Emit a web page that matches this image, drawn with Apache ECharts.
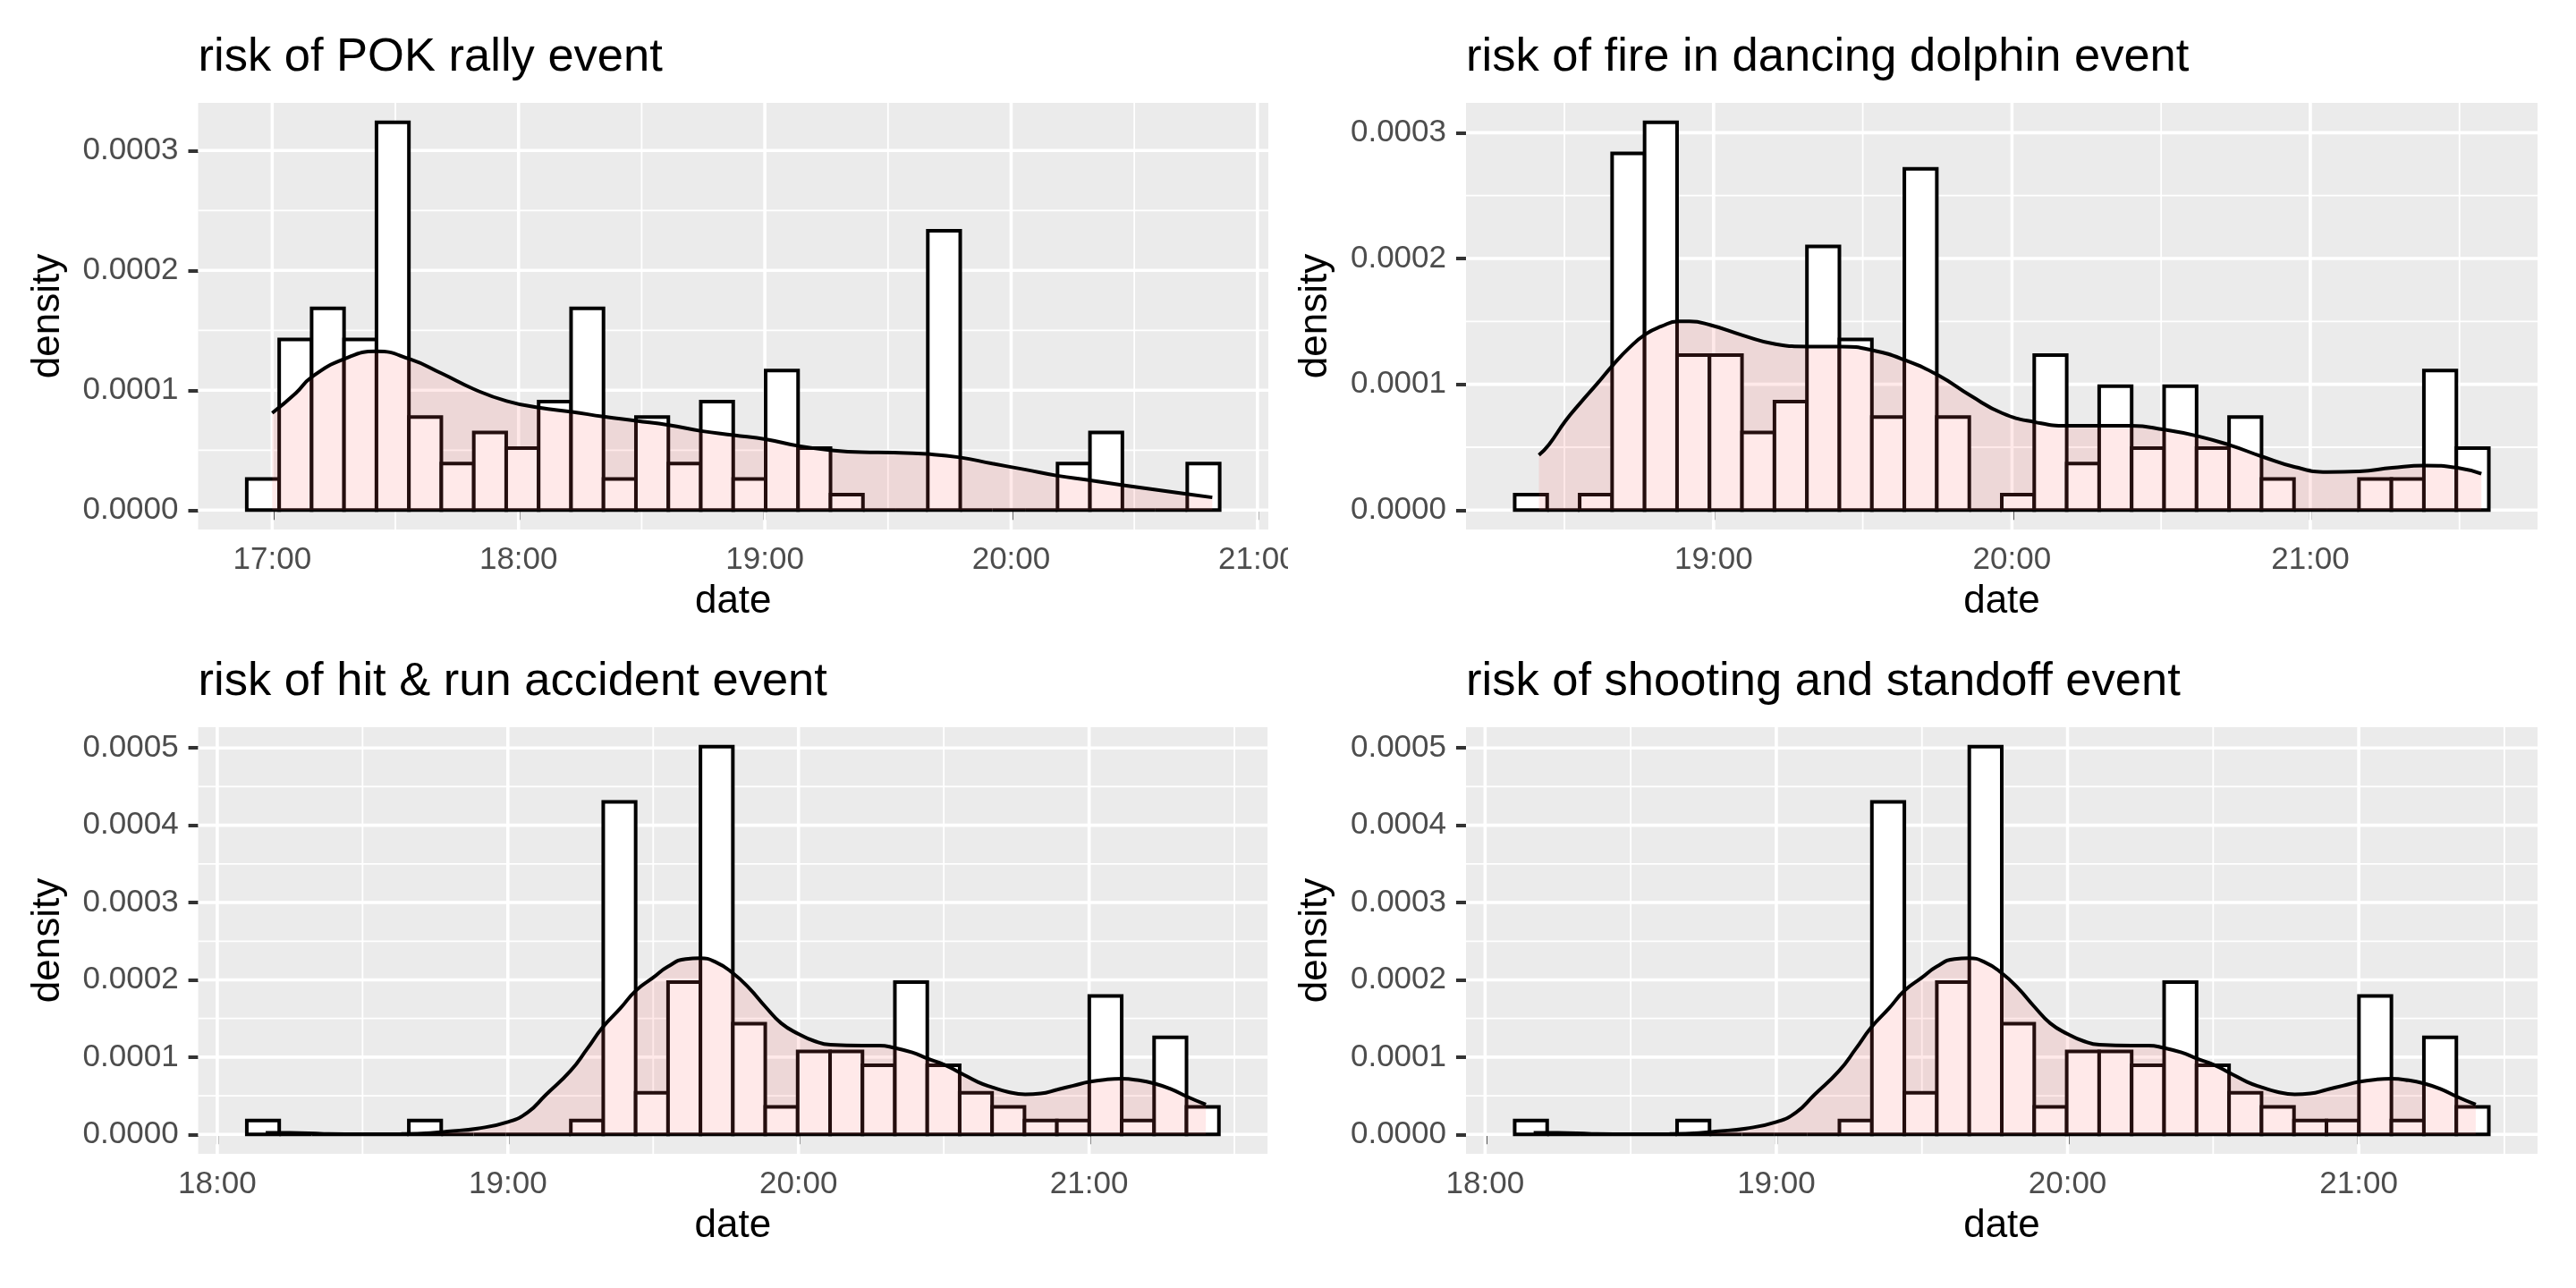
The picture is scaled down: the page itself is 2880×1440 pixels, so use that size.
<!DOCTYPE html>
<html>
<head>
<meta charset="utf-8">
<script src="https://cdn.jsdelivr.net/npm/echarts@6/dist/echarts.min.js"></script>
<style>
html,body{margin:0;padding:0;background:#fff;}
#chart{width:2880px;height:1440px;}
</style>
</head>
<body>
<div id="chart"></div>
<script>
// ---------- DATA ----------
// Titles
const panelTitles = ['risk of POK rally event', 'risk of fire in dancing dolphin event',
  'risk of hit & run accident event', 'risk of shooting and standoff event'];

// Panel 1: POK rally
const pokBinStart = '16:53:48';
const pokBinWidthMin = 7.9;
const pokBarDensity = [0.0000259, 0.0001424, 0.0001683, 0.0001424, 0.0003236, 0.0000777, 0.0000388, 0.0000647, 0.0000518, 0.0000906,
  0.0001683, 0.0000259, 0.0000777, 0.0000388, 0.0000906, 0.0000259, 0.0001165, 0.0000518, 0.0000129, 0,
  0, 0.000233, 0, 0, 0, 0.0000388, 0.0000647, 0, 0, 0.0000388];
const pokCurveTime = ['17:00:00','17:05:42','17:09:36','17:17:30','17:25:24','17:33:30','17:41:18','17:49:06','17:57:06','18:05:00',
  '18:13:00','18:20:42','18:28:42','18:36:36','18:44:30','18:52:24','19:00:24','19:08:18','19:16:00','19:23:42',
  '19:31:24','19:39:30','19:47:30','19:55:24','20:03:18','20:11:18','20:18:54','20:26:54','20:34:48','20:42:42','20:49:00'];
const pokCurveDensity = [0.000081, 0.0000975, 0.000111, 0.000126, 0.0001325, 0.000126, 0.000114, 0.000101, 0.000091, 0.0000855,
  0.000082, 0.000078, 0.0000745, 0.000071, 0.000066, 0.0000625, 0.000059, 0.0000535, 0.00005, 0.0000483,
  0.000048, 0.0000468, 0.000044, 0.0000388, 0.0000339, 0.0000287, 0.000025, 0.000021, 0.0000172, 0.0000135, 0.0000106];
const pokXMajor = ['17:00','18:00','19:00','20:00','21:00'];
const pokXMinor = ['17:30','18:30','19:30','20:30'];
const pokYMajor = [0, 0.0001, 0.0002, 0.0003];
const pokYMinor = [0.00005, 0.00015, 0.00025];

// Panel 2: fire in dancing dolphin
const dolphinBinStart = '18:20:00';
const dolphinBinWidthMin = 6.53;
const dolphinBarDensity = [0.0000123, 0, 0.0000123, 0.0002836, 0.0003083, 0.0001233, 0.0001233, 0.0000617, 0.0000863, 0.0002096,
  0.0001356, 0.000074, 0.0002713, 0.000074, 0, 0.0000123, 0.0001233, 0.000037, 0.0000986, 0.0000493,
  0.0000986, 0.0000493, 0.000074, 0.0000247, 0, 0, 0.0000247, 0.0000247, 0.000111, 0.0000493];
const dolphinCurveTime = ['18:24:52','18:26:52','18:30:13','18:33:13','18:36:38','18:39:41','18:43:02','18:46:23','18:49:27','18:52:52',
  '18:55:09','18:59:26','19:05:50','19:12:28','19:19:02','19:25:39','19:32:04','19:38:37','19:45:15','19:51:40',
  '19:58:05','20:04:34','20:11:07','20:17:36','20:24:00','20:30:36','20:37:12','20:43:48','20:50:12','20:56:48',
  '21:03:24','21:09:54','21:16:24','21:23:00','21:29:36','21:34:24'];
const dolphinCurveDensity = [0.0000438, 0.000052, 0.000071, 0.0000853, 0.0001007, 0.000115, 0.000129, 0.00014, 0.000146, 0.00015,
  0.00015, 0.000147, 0.000139, 0.000132, 0.00013, 0.00013, 0.000127, 0.000119, 0.000107, 0.000091,
  0.000077, 0.00007, 0.000067, 0.000067, 0.000067, 0.000064, 0.000059, 0.0000517, 0.0000427, 0.0000344,
  0.0000303, 0.0000308, 0.0000336, 0.0000355, 0.0000336, 0.0000289];
const dolphinXMajor = ['19:00','20:00','21:00'];
const dolphinXMinor = ['18:30','19:30','20:30','21:30'];
const dolphinYMajor = [0, 0.0001, 0.0002, 0.0003];
const dolphinYMinor = [0.00005, 0.00015, 0.00025];

// Panel 3: hit & run accident
const hitBinStart = '18:06:06';
const hitBinWidthMin = 6.69;
const hitBarDensity = [0.0000179, 0, 0, 0, 0, 0.0000179, 0, 0, 0, 0,
  0.0000179, 0.0004302, 0.0000538, 0.0001972, 0.0005018, 0.0001434, 0.0000358, 0.0001075, 0.0001075, 0.0000896,
  0.0001972, 0.0000896, 0.0000538, 0.0000358, 0.0000179, 0.0000179, 0.0001792, 0.0000179, 0.0001255, 0.0000358];
const hitCurveTime = ['18:10:00','18:15:00','18:22:00','18:30:00','18:38:00','18:44:00','18:47:30','18:53:42','19:00:00','19:04:06',
  '19:07:48','19:12:54','19:16:24','19:19:30','19:23:12','19:26:24','19:30:00','19:33:00','19:36:42','19:39:42',
  '19:42:54','19:46:24','19:49:42','19:53:12','19:56:24','20:00:00','20:03:12','20:06:36','20:13:12','20:16:42',
  '20:19:48','20:23:30','20:26:42','20:30:12','20:33:18','20:37:00','20:40:00','20:43:12','20:46:48','20:50:00',
  '20:53:24','20:56:42','21:00:00','21:03:30','21:06:42','21:10:18','21:13:24','21:16:48','21:20:12','21:24:06'];
const hitCurveDensity = [0.000002, 0.000002, 0.0000008, 0.0000003, 0.0000006, 0.0000018, 0.0000039, 0.0000077, 0.0000162, 0.0000286,
  0.000051, 0.000082, 0.000111, 0.000138, 0.000163, 0.000186, 0.000203, 0.000217, 0.000227, 0.000228,
  0.000223, 0.000209, 0.00019, 0.000165, 0.000144, 0.00013, 0.000121, 0.000116, 0.000115, 0.000115,
  0.000112, 0.000106, 0.000098, 0.00009, 0.00008, 0.000068, 0.000061, 0.000055, 0.000052, 0.000053,
  0.000058, 0.000063, 0.000068, 0.000071, 0.000072, 0.00007, 0.000066, 0.000059, 0.000049, 0.0000386];
const hitXMajor = ['18:00','19:00','20:00','21:00'];
const hitXMinor = ['18:30','19:30','20:30','21:30'];
const hitYMajor = [0, 0.0001, 0.0002, 0.0003, 0.0004, 0.0005];
const hitYMinor = [0.00005, 0.00015, 0.00025, 0.00035, 0.00045];

// Panel 4: shooting and standoff
const shootBinStart = '18:06:06';
const shootBinWidthMin = 6.69;
const shootBarDensity = [0.0000179, 0, 0, 0, 0, 0.0000179, 0, 0, 0, 0,
  0.0000179, 0.0004302, 0.0000538, 0.0001972, 0.0005018, 0.0001434, 0.0000358, 0.0001075, 0.0001075, 0.0000896,
  0.0001972, 0.0000896, 0.0000538, 0.0000358, 0.0000179, 0.0000179, 0.0001792, 0.0000179, 0.0001255, 0.0000358];
const shootCurveTime = ['18:10:00','18:15:00','18:22:00','18:30:00','18:38:00','18:44:00','18:47:30','18:53:42','19:00:00','19:04:06',
  '19:07:48','19:12:54','19:16:24','19:19:30','19:23:12','19:26:24','19:30:00','19:33:00','19:36:42','19:39:42',
  '19:42:54','19:46:24','19:49:42','19:53:12','19:56:24','20:00:00','20:03:12','20:06:36','20:13:12','20:16:42',
  '20:19:48','20:23:30','20:26:42','20:30:12','20:33:18','20:37:00','20:40:00','20:43:12','20:46:48','20:50:00',
  '20:53:24','20:56:42','21:00:00','21:03:30','21:06:42','21:10:18','21:13:24','21:16:48','21:20:12','21:24:06'];
const shootCurveDensity = [0.000002, 0.000002, 0.0000008, 0.0000003, 0.0000006, 0.0000018, 0.0000039, 0.0000077, 0.0000162, 0.0000286,
  0.000051, 0.000082, 0.000111, 0.000138, 0.000163, 0.000186, 0.000203, 0.000217, 0.000227, 0.000228,
  0.000223, 0.000209, 0.00019, 0.000165, 0.000144, 0.00013, 0.000121, 0.000116, 0.000115, 0.000115,
  0.000112, 0.000106, 0.000098, 0.00009, 0.00008, 0.000068, 0.000061, 0.000055, 0.000052, 0.000053,
  0.000058, 0.000063, 0.000068, 0.000071, 0.000072, 0.00007, 0.000066, 0.000059, 0.000049, 0.0000386];
const shootXMajor = ['18:00','19:00','20:00','21:00'];
const shootXMinor = ['18:30','19:30','20:30','21:30'];
const shootYMajor = [0, 0.0001, 0.0002, 0.0003, 0.0004, 0.0005];
const shootYMinor = [0.00005, 0.00015, 0.00025, 0.00035, 0.00045];

// ---------- HELPERS ----------
function toMin(s) {
  const p = s.split(':').map(Number);
  return p[0] * 60 + p[1] + (p[2] || 0) / 60;
}
function fmtTime(v) {
  const t = Math.round(v);
  const h = Math.floor(t / 60), m = t % 60;
  return (h < 10 ? '0' : '') + h + ':' + (m < 10 ? '0' : '') + m;
}

const FONT = '"Liberation Sans", Arial, sans-serif';
const LW = 4;
const TICK_FS = 35, NAME_FS = 44, TITLE_FS = 52.5;

const panels = [
  { title: panelTitles[0], binStart: pokBinStart, bw: pokBinWidthMin, bars: pokBarDensity, ct: pokCurveTime, cd: pokCurveDensity,
    xMaj: pokXMajor, xMin: pokXMinor, yMaj: pokYMajor, yMin: pokYMinor,
    rect: { left: 221.5, top: 115, width: 1196.5, height: 477 } },
  { title: panelTitles[1], binStart: dolphinBinStart, bw: dolphinBinWidthMin, bars: dolphinBarDensity, ct: dolphinCurveTime, cd: dolphinCurveDensity,
    xMaj: dolphinXMajor, xMin: dolphinXMinor, yMaj: dolphinYMajor, yMin: dolphinYMinor,
    rect: { left: 1639, top: 115, width: 1198, height: 477 } },
  { title: panelTitles[2], binStart: hitBinStart, bw: hitBinWidthMin, bars: hitBarDensity, ct: hitCurveTime, cd: hitCurveDensity,
    xMaj: hitXMajor, xMin: hitXMinor, yMaj: hitYMajor, yMin: hitYMinor,
    rect: { left: 221.6, top: 813, width: 1195.5, height: 477 } },
  { title: panelTitles[3], binStart: shootBinStart, bw: shootBinWidthMin, bars: shootBarDensity, ct: shootCurveTime, cd: shootCurveDensity,
    xMaj: shootXMajor, xMin: shootXMinor, yMaj: shootYMajor, yMin: shootYMinor,
    rect: { left: 1639, top: 813, width: 1198, height: 477 } }
];

const grids = [], xAxes = [], yAxes = [], series = [], titles = [];

panels.forEach((p, i) => {
  const start = toMin(p.binStart);
  const barData = p.bars.map((d, k) => [start + k * p.bw, start + (k + 1) * p.bw, d]);
  const xLo = start, xHi = start + p.bars.length * p.bw;
  const xPad = (xHi - xLo) * 0.05;
  const yTop = Math.max(Math.max.apply(null, p.bars), Math.max.apply(null, p.cd));
  const yMinV = -0.05 * yTop, yMaxV = 1.05 * yTop;
  const xMajV = p.xMaj.map(toMin), xMinV = p.xMin.map(toMin);

  grids.push({ left: p.rect.left, top: p.rect.top, width: p.rect.width, height: p.rect.height,
    show: true, backgroundColor: '#EBEBEB', borderWidth: 0, containLabel: false, outerBoundsMode: 'none' });

  xAxes.push({
    type: 'value', gridIndex: i, min: xLo - xPad, max: xHi + xPad,
    axisLine: { show: false },
    splitLine: { show: false },
    axisTick: { show: true, length: 11, customValues: xMajV, lineStyle: { color: '#333333', width: LW } },
    axisLabel: { customValues: xMajV, formatter: fmtTime, color: '#4D4D4D', fontSize: TICK_FS, fontFamily: FONT, margin: 17,
      showMinLabel: true, showMaxLabel: true, hideOverlap: false },
    name: 'date', nameLocation: 'middle', nameGap: 59,
    nameTextStyle: { color: '#000', fontSize: NAME_FS, fontFamily: FONT, lineHeight: NAME_FS }
  });
  yAxes.push({
    type: 'value', gridIndex: i, min: yMinV, max: yMaxV,
    axisLine: { show: false },
    splitLine: { show: false },
    axisTick: { show: true, length: 11, customValues: p.yMaj, lineStyle: { color: '#333333', width: LW } },
    axisLabel: { customValues: p.yMaj, formatter: v => v.toFixed(4), color: '#4D4D4D', fontSize: TICK_FS, fontFamily: FONT, margin: 22,
      showMinLabel: true, showMaxLabel: true, hideOverlap: false },
    name: 'density', nameLocation: 'middle', nameGap: 146, nameRotate: 90,
    nameTextStyle: { color: '#000', fontSize: NAME_FS, fontFamily: FONT, lineHeight: NAME_FS }
  });

  // grid lines (drawn through the axes' scales)
  const gl = [];
  xMinV.forEach(v => gl.push([v, 0, 0, 0]));
  p.yMin.forEach(v => gl.push([xLo, v, 0, 1]));
  xMajV.forEach(v => gl.push([v, 0, 1, 0]));
  p.yMaj.forEach(v => gl.push([xLo, v, 1, 1]));
  series.push({
    type: 'custom', xAxisIndex: i, yAxisIndex: i, z: 1, silent: true, clip: true,
    encode: { x: 0, y: 1 },
    data: gl,
    renderItem: function (params, api) {
      const cs = params.coordSys;
      const major = api.value(2) === 1;
      const horiz = api.value(3) === 1;
      const pt = api.coord([api.value(0), api.value(1)]);
      const shape = horiz ? { x1: cs.x, y1: pt[1], x2: cs.x + cs.width, y2: pt[1] }
                          : { x1: pt[0], y1: cs.y, x2: pt[0], y2: cs.y + cs.height };
      return { type: 'line', shape: shape, style: { stroke: '#FFFFFF', lineWidth: major ? 3.6 : 1.8 } };
    }
  });

  // histogram bars
  series.push({
    type: 'custom', xAxisIndex: i, yAxisIndex: i, z: 2, silent: true, clip: true,
    encode: { x: [0, 1], y: 2 },
    data: barData,
    renderItem: function (params, api) {
      const p0 = api.coord([api.value(0), 0]);
      const p1 = api.coord([api.value(1), api.value(2)]);
      return { type: 'rect',
        shape: { x: p0[0], y: p1[1], width: p1[0] - p0[0], height: p0[1] - p1[1] },
        style: { fill: '#FFFFFF', stroke: '#000000', lineWidth: LW } };
    }
  });

  // density curve
  series.push({
    type: 'line', xAxisIndex: i, yAxisIndex: i, z: 3, silent: true,
    data: p.ct.map((t, k) => [toMin(t), p.cd[k]]),
    smooth: 0.5, symbol: 'none', showSymbol: false,
    lineStyle: { color: '#000000', width: LW },
    areaStyle: { color: 'rgba(255,102,102,0.2)', origin: 0 }
  });

  titles.push({
    text: p.title, left: p.rect.left, top: p.rect.top - 76.4, padding: 0,
    textStyle: { color: '#000', fontSize: TITLE_FS, fontWeight: 'normal', fontFamily: FONT, lineHeight: TITLE_FS }
  });
});

const chart = echarts.init(document.getElementById('chart'), null, { renderer: 'canvas' });
chart.setOption({
  backgroundColor: '#FFFFFF',
  animation: false,
  title: titles,
  grid: grids,
  xAxis: xAxes,
  yAxis: yAxes,
  series: series,
  // the left-column plots are cut off at the column boundary (x = 1440), like the original layout
  graphic: [{ type: 'rect', left: 1440, top: 596, z: 100, silent: true,
    shape: { width: 40, height: 60 }, style: { fill: '#FFFFFF' } }]
});
</script>
</body>
</html>
